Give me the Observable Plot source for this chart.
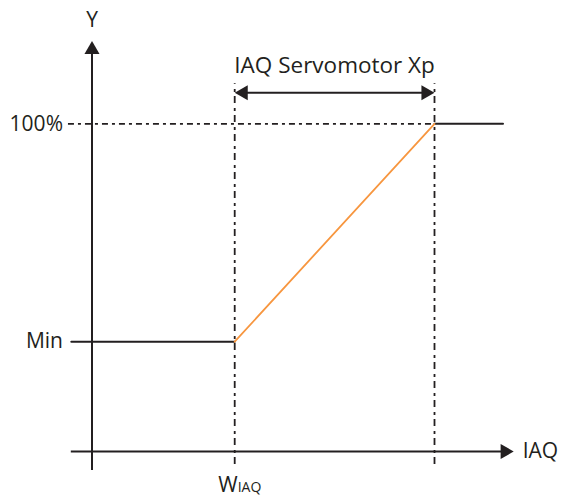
<!DOCTYPE html>
<html>
<head>
<meta charset="utf-8">
<script src="https://cdn.jsdelivr.net/npm/d3@7"></script>
<script src="https://cdn.jsdelivr.net/npm/@observablehq/plot@0.6"></script>
<style>
  html, body { margin: 0; padding: 0; background: #fff; }
  #chart svg { display: block; }
</style>
</head>
<body>
<div id="chart"></div>
<script>
// ---- chart values (schematic units) ----
const W_IAQ = 10;          // setpoint position on IAQ axis
const XP = 14;             // servomotor proportional band
const Y_MIN = 33.5;        // "Min" output level (%)
const Y_MAX = 100;         // 100% output level
const xAxisRange = [-1.45, 29.55];   // IAQ axis from left end to arrow tip
const xAxisShaftEnd = 28.95;         // where the IAQ shaft meets its head
const yAxisRange = [-5.8, 125.3];    // Y axis from bottom end to arrow tip
const yAxisShaftEnd = 122.6;         // where the Y shaft meets its head
const guideRange = [-4, 112.2];      // vertical dashed guides
const refLeft = -1.65;               // start of dash-dot 100% reference
const minLeft = -1.45;               // start of Min plateau
const maxRight = 28.8;               // end of 100% plateau
const xpArrowY = 109.5;              // level of the Xp dimension arrow

// tick labels
const yLabels = [{y: Y_MAX, text: "100%"}, {y: Y_MIN, text: "Min"}];
const xpLabel = "IAQ Servomotor Xp";

// response curve
const curveLow = [{x: minLeft, y: Y_MIN}, {x: W_IAQ, y: Y_MIN}];
const curveRamp = [{x: W_IAQ, y: Y_MIN}, {x: W_IAQ + XP, y: Y_MAX}];
const curveHigh = [{x: W_IAQ + XP, y: Y_MAX}, {x: maxRight, y: Y_MAX}];

const ink = "#231f20";
const orange = "#f7963f";
const font = "'Open Sans', Lato, sans-serif";
const headR = 5.6;
const headOff = 8.7; // centroid-to-tip distance of the triangle head

const chart = Plot.plot({
  width: 561,
  height: 497,
  margin: 0,
  style: {fontFamily: font, color: ink, background: "#fff"},
  x: {domain: [0, 24], range: [91.5, 434], axis: null},
  y: {domain: [0, 100], range: [451, 123.3], axis: null},
  marks: [
    // dashed vertical guides at W and W+Xp
    Plot.ruleX([W_IAQ, W_IAQ + XP], {y1: guideRange[0], y2: guideRange[1], stroke: ink, strokeWidth: 1.8, strokeDasharray: "7,4,3,5"}),
    // dash-dot 100% reference
    Plot.ruleY([Y_MAX], {x1: refLeft, x2: W_IAQ + XP, stroke: ink, strokeWidth: 1.8, strokeDasharray: "6,4,3,4"}),
    // axes shafts
    Plot.ruleY([0], {x1: xAxisRange[0], x2: xAxisShaftEnd, stroke: ink, strokeWidth: 2}),
    Plot.ruleX([0], {y1: yAxisRange[0], y2: yAxisShaftEnd, stroke: ink, strokeWidth: 2}),
    // axis arrow heads
    Plot.dot([{x: xAxisRange[1], y: 0}], {x: "x", y: "y", symbol: "triangle", r: headR, rotate: 90, dx: -headOff, fill: ink, stroke: "none"}),
    Plot.dot([{x: 0, y: yAxisRange[1]}], {x: "x", y: "y", symbol: "triangle", r: headR, rotate: 0, dy: headOff, fill: ink, stroke: "none"}),
    // response curve
    Plot.line(curveLow, {x: "x", y: "y", stroke: ink, strokeWidth: 2}),
    Plot.line(curveHigh, {x: "x", y: "y", stroke: ink, strokeWidth: 2}),
    Plot.line(curveRamp, {x: "x", y: "y", stroke: orange, strokeWidth: 1.8}),
    // Xp dimension arrow
    Plot.ruleY([xpArrowY], {x1: W_IAQ + 0.4, x2: W_IAQ + XP - 0.4, stroke: ink, strokeWidth: 2}),
    Plot.dot([{x: W_IAQ, y: xpArrowY}], {x: "x", y: "y", symbol: "triangle", r: headR, rotate: -90, dx: headOff, fill: ink, stroke: "none"}),
    Plot.dot([{x: W_IAQ + XP, y: xpArrowY}], {x: "x", y: "y", symbol: "triangle", r: headR, rotate: 90, dx: -headOff, fill: ink, stroke: "none"}),
    // labels
    Plot.text([xpLabel], {x: W_IAQ + XP / 2, y: xpArrowY, text: d => d, dy: -27, fontSize: 22.5, fill: ink}),
    Plot.text(yLabels, {x: 0, y: "y", text: "text", textAnchor: "end", dx: -29, fontSize: 21, fill: ink}),
    Plot.text(["Y"], {x: 0, y: yAxisRange[1], text: d => d, dy: -21, fontSize: 21, fill: ink}),
    Plot.text(["IAQ"], {x: xAxisRange[1], y: 0, text: d => d, textAnchor: "start", dx: 9, fontSize: 21, fill: ink}),
    Plot.text(["W"], {x: W_IAQ, y: 0, text: d => d, textAnchor: "end", lineAnchor: "bottom", dx: 3, dy: 40, fontSize: 21, fill: ink}),
    Plot.text(["IAQ"], {x: W_IAQ, y: 0, text: d => d, textAnchor: "start", lineAnchor: "bottom", dx: 3, dy: 40, fontSize: 14, fill: ink})
  ]
});
document.getElementById("chart").appendChild(chart);
</script>
</body>
</html>
